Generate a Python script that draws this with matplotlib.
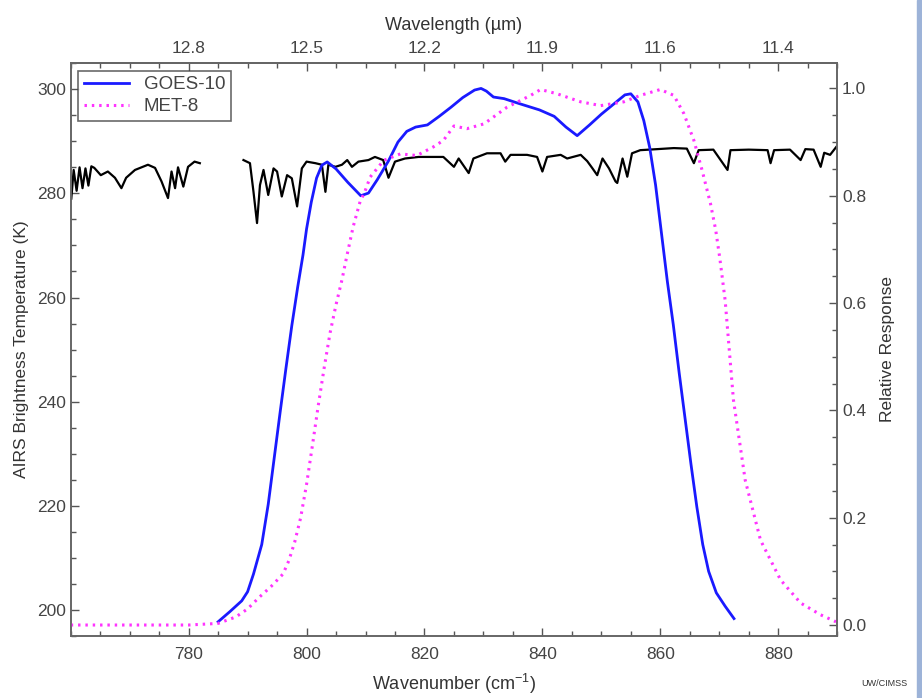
import numpy as np
import matplotlib
matplotlib.use("Agg")
import matplotlib.pyplot as plt
from matplotlib.ticker import MultipleLocator, FixedLocator
from matplotlib.patches import Rectangle

plt.rcParams['font.family'] = ['Liberation Sans', 'DejaVu Sans']
plt.rcParams['mathtext.fontset'] = 'custom'
plt.rcParams['mathtext.rm'] = 'Liberation Sans'

# -----------------------
# AIRS brightness temperature spectrum (K), gap between 782 and 789 cm-1
# -----------------------
airs_wn = [760.1, 760.5, 761.0, 761.5, 762.0, 762.5, 763.0, 763.5, 764.0, 765.1,
           766.3, 767.5, 768.6, 769.4, 770.9, 772.0, 773.1, 774.3, 775.4, 776.5,
           777.1, 777.7, 778.2, 779.1, 779.9, 781.0, 781.9,
           782.5,
           789.3, 790.4, 791.0, 791.6, 792.1, 792.7, 793.5, 794.4, 795.0, 795.8,
           796.7, 797.5, 798.4, 799.2, 800.0, 801.5, 802.6, 803.2, 803.7, 804.9,
           806.0, 806.9, 807.7, 808.8, 810.5, 811.6, 813.0, 813.9, 815.0, 816.7,
           819.0, 822.0, 823.2, 825.0, 825.8, 827.5, 828.3, 830.6, 832.9, 833.7,
           834.6, 837.4, 839.1, 840.0, 840.8, 843.1, 844.2, 846.5, 847.6, 848.5,
           849.3, 850.2, 851.3, 852.4, 852.7, 853.6, 854.4, 855.2, 856.6, 859.5,
           862.3, 864.5, 865.7, 866.5, 869.0, 871.4, 871.9, 875.0, 878.2, 878.7,
           879.3, 882.0, 883.8, 884.6, 886.0, 887.2, 887.8, 888.8, 889.9]
airs_tb = [279.0, 284.5, 280.5, 285.0, 281.0, 284.8, 281.5, 285.2, 284.9, 283.5,
           284.2, 283.0, 281.0, 283.0, 284.5, 285.0, 285.5, 284.9, 282.3, 279.1,
           284.2, 281.0, 285.0, 281.3, 285.1, 286.1, 285.8,
           np.nan,
           286.4, 285.8, 280.3, 274.3, 281.6, 284.5, 279.7, 284.8, 284.2, 279.4,
           283.5, 282.9, 277.5, 284.8, 286.1, 285.8, 285.5, 280.3, 285.5, 285.1,
           285.5, 286.4, 285.1, 286.1, 286.4, 287.0, 286.4, 283.0, 286.1, 286.7,
           287.0, 287.0, 287.0, 285.1, 286.7, 283.9, 286.7, 287.7, 287.7, 286.1,
           287.4, 287.4, 287.0, 284.2, 287.0, 287.4, 286.7, 287.4, 286.2, 284.8,
           283.5, 286.7, 284.8, 282.3, 282.0, 286.7, 283.2, 287.7, 288.3, 288.5,
           288.7, 288.6, 285.8, 288.3, 288.4, 284.5, 288.3, 288.4, 288.3, 285.8,
           288.3, 288.4, 286.4, 288.5, 288.4, 285.1, 287.8, 287.4, 289.0]

# -----------------------
# Spectral response functions
# -----------------------
goes_wn = [785.0, 787.0, 789.0, 790.0, 791.0, 792.4, 793.5, 794.5, 795.5, 796.5,
           797.5, 798.5, 799.4, 800.0, 800.8, 801.7, 802.6, 803.5, 805.0, 807.0,
           809.2, 810.5, 812.0, 813.9, 815.5, 817.0, 818.5, 820.5, 822.5, 824.5,
           826.5, 828.5, 829.6, 830.5, 831.7, 833.5, 836.0, 839.5, 842.0, 844.0,
           845.9, 848.0, 850.0, 852.0, 854.0, 855.0, 856.2, 857.2, 858.2, 859.2,
           860.2, 861.2, 862.2, 863.2, 864.2, 865.2, 866.2, 867.2, 868.2, 869.5,
           871.0, 872.5]
goes_rsp = [0.006, 0.025, 0.045, 0.062, 0.095, 0.150, 0.225, 0.310, 0.395, 0.478,
            0.558, 0.630, 0.690, 0.738, 0.788, 0.833, 0.857, 0.863, 0.850, 0.825,
            0.800, 0.805, 0.830, 0.865, 0.900, 0.920, 0.928, 0.932, 0.948, 0.965,
            0.983, 0.997, 1.000, 0.995, 0.984, 0.981, 0.972, 0.960, 0.948, 0.928,
            0.912, 0.932, 0.952, 0.970, 0.988, 0.990, 0.975, 0.940, 0.890, 0.820,
            0.730, 0.640, 0.560, 0.470, 0.385, 0.300, 0.220, 0.150, 0.100, 0.060,
            0.035, 0.012]

met_wn = [760.0, 770.0, 780.0, 785.0, 788.0, 790.0, 792.0, 794.0, 796.0, 797.0,
          798.0, 799.0, 800.0, 801.0, 802.0, 803.0, 804.0, 805.0, 806.0, 806.8,
          807.9, 809.1, 809.8, 810.8, 813.1, 815.9, 818.7, 821.5, 823.2, 825.0,
          827.2, 830.1, 834.0, 838.0, 839.7, 842.5, 846.5, 849.9, 853.8, 856.6,
          860.0, 862.3, 864.0, 865.7, 867.1, 868.5, 869.4, 870.1, 871.0, 872.4,
          874.4, 877.0, 880.4, 883.8, 887.2, 889.8]
met_rsp = [0.0, 0.0, 0.0, 0.003, 0.015, 0.030, 0.052, 0.072, 0.095, 0.120,
           0.155, 0.200, 0.262, 0.335, 0.410, 0.480, 0.545, 0.597, 0.643, 0.686,
           0.742, 0.790, 0.805, 0.835, 0.866, 0.878, 0.875, 0.891, 0.903, 0.930,
           0.925, 0.934, 0.965, 0.987, 0.998, 0.990, 0.975, 0.968, 0.975, 0.987,
           0.998, 0.987, 0.953, 0.903, 0.847, 0.786, 0.736, 0.683, 0.605, 0.420,
           0.270, 0.158, 0.084, 0.041, 0.019, 0.006]

top_ticks = [780, 800, 820, 840, 860, 880]

grey = "#555555"

fig = plt.figure(figsize=(9.22, 6.98), dpi=100)
ax = fig.add_axes([0.0767, 0.0888, 0.8313, 0.8214])

ax.plot(airs_wn, airs_tb, color="black", lw=1.6)
ax.set_xlim(760, 890)
ax.set_ylim(195, 305.1)
ax.set_yticks([200, 220, 240, 260, 280, 300])
ax.yaxis.set_minor_locator(MultipleLocator(5))
ax.set_xticks(top_ticks)
ax.xaxis.set_minor_locator(MultipleLocator(5))
ax.set_xlabel("Wavenumber (cm$^{\\mathregular{-1}}$)", fontsize=13, color="#333333", labelpad=7)
ax.set_ylabel("AIRS Brightness Temperature (K)", fontsize=12.5, color="#333333", labelpad=6)

ax_r = ax.twinx()
ax_r.plot(goes_wn, goes_rsp, color="#1a1aff", lw=2.0, label="GOES-10")
ax_r.plot(met_wn, met_rsp, color="#ff33ff", lw=2.2, ls=(0, (0.8, 1.6)), label="MET-8")
ax_r.set_ylim(-0.0205, 1.048)
ax_r.set_yticks([0.0, 0.2, 0.4, 0.6, 0.8, 1.0])
ax_r.set_yticklabels(["0.0", "0.2", "0.4", "0.6", "0.8", "1.0"])
ax_r.yaxis.set_minor_locator(MultipleLocator(0.05))
ax_r.set_ylabel("Relative Response", fontsize=12.5, color="#333333", labelpad=10)

# wavelength axis on top
ax_t = ax.secondary_xaxis("top")
ax_t.xaxis.set_major_locator(FixedLocator(top_ticks))
ax_t.set_xticklabels(["%.1f" % (10000.0 / w) for w in top_ticks])
ax_t.xaxis.set_minor_locator(MultipleLocator(5))
ax_t.set_xlabel("Wavelength (\u00b5m)", fontsize=13, color="#333333", labelpad=8)

for a in (ax, ax_r, ax_t):
    a.tick_params(which="both", direction="in", colors=grey, labelcolor="#444444",
                  labelsize=12.5, width=1.0)
    a.tick_params(which="major", length=6)
    a.tick_params(which="minor", length=3.5)
    for s in a.spines.values():
        s.set_color("#666666")
        s.set_linewidth(1.2)
ax.tick_params(axis="x", pad=8)
ax_t.tick_params(pad=5)

leg = ax_r.legend(loc="upper left", bbox_to_anchor=(0.0095, 0.986), borderaxespad=0,
                  fancybox=False, fontsize=13.5, handlelength=2.4, handletextpad=0.8,
                  borderpad=0.3, labelspacing=0.25, labelcolor="#444444")
leg.get_frame().set_edgecolor("#444444")
leg.get_frame().set_linewidth(1.2)

fig.text(0.959, 0.017, "UW/CIMSS", fontsize=6.5, color="#333333", ha="center")
fig.patches.append(Rectangle((0.995, 0.0), 0.005, 1.0, transform=fig.transFigure,
                             color="#9db3d8", zorder=0))

fig.savefig("out.png", dpi=100)
